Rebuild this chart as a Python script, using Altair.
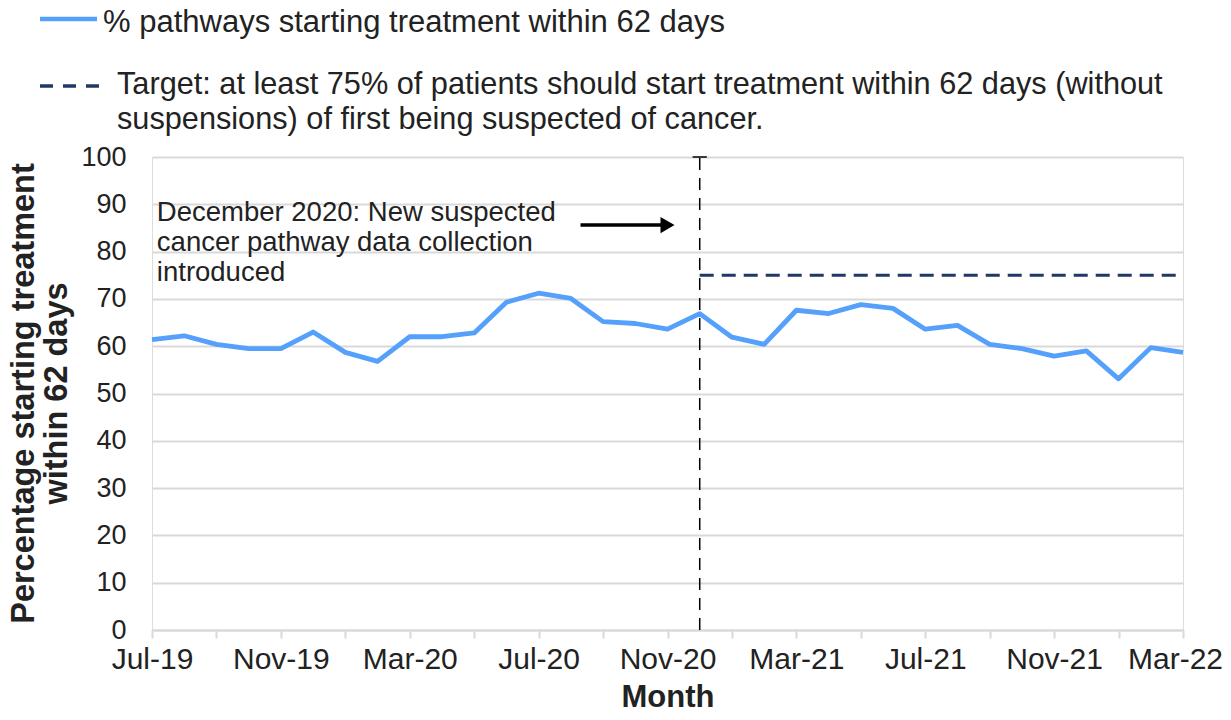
import altair as alt
import pandas as pd

months = ["Jul-19", "Aug-19", "Sep-19", "Oct-19", "Nov-19", "Dec-19", "Jan-20", "Feb-20",
          "Mar-20", "Apr-20", "May-20", "Jun-20", "Jul-20", "Aug-20", "Sep-20", "Oct-20",
          "Nov-20", "Dec-20", "Jan-21", "Feb-21", "Mar-21", "Apr-21", "May-21", "Jun-21",
          "Jul-21", "Aug-21", "Sep-21", "Oct-21", "Nov-21", "Dec-21", "Jan-22", "Feb-22",
          "Mar-22"]
pct_62_days = [61.4, 62.2, 60.4, 59.5, 59.5, 63.0, 58.7, 56.8, 62.0, 62.0, 62.8, 69.3,
               71.2, 70.1, 65.2, 64.8, 63.6, 66.9, 61.9, 60.4, 67.6, 66.9, 68.8, 68.0,
               63.6, 64.4, 60.4, 59.5, 57.9, 59.0, 53.1, 59.7, 58.7]
target_value = 75
change_month = "Dec-20"
y_ticks = list(range(0, 101, 10))

legend_line = "% pathways starting treatment within 62 days"
legend_target = ["Target: at least 75% of patients should start treatment within 62 days (without",
                 "suspensions) of first being suspected of cancer."]
annotation = ["December 2020: New suspected", "cancer pathway data collection", "introduced"]

FONT = "Liberation Sans"
BLUE = "#55a0fb"
NAVY = "#1f3864"
GRID = "#d9d9d9"
TXT = "#222222"

idx = list(range(len(months)))
df = pd.DataFrame({"i": idx, "month": months, "pct": pct_62_days})
ci = months.index(change_month)
last = len(months) - 1

label_arr = "[" + ",".join("'" + m + "'" for m in months) + "]"
label_expr = f"datum.value % 4 == 0 ? {label_arr}[datum.value] : ''"

x_scale = alt.Scale(domain=[0, last], nice=False, zero=False)
y_scale = alt.Scale(domain=[0, 100], nice=False)

x_axis = alt.Axis(values=idx, labelExpr=label_expr, labelFlush=False, labelOverlap=False,
                  grid=False, tickSize=8, tickWidth=2, tickColor=GRID, domainColor=GRID,
                  domainWidth=2, labelFontSize=30, labelColor=TXT, labelFont=FONT,
                  labelPadding=6, labelOffset={"expr": f"datum.value == {last} ? -8 : 0"},
                  title="Month", titleFont=FONT, titleFontSize=31,
                  titleFontWeight="bold", titleColor=TXT, titlePadding=8)
y_axis = alt.Axis(values=y_ticks, domain=False, ticks=False, grid=True, gridColor=GRID,
                  gridWidth=2, labelFontSize=27, labelColor=TXT, labelFont=FONT,
                  labelPadding=26,
                  title=["Percentage starting treatment", "within 62 days"],
                  titleFont=FONT, titleFontSize=32.5, titleFontWeight="bold", titleColor=TXT,
                  titleAngle=270, titleX=-129, titleY=236, titleAlign="center",
                  titleBaseline="middle", titleLineHeight=33)

base = alt.Chart(df)
line = base.mark_line(color=BLUE, strokeWidth=4.8, strokeJoin="round").encode(
    x=alt.X("i:Q", scale=x_scale, axis=x_axis),
    y=alt.Y("pct:Q", scale=y_scale, axis=y_axis),
)

one = pd.DataFrame({"x": [ci], "x2": [last], "y": [target_value], "y0": [0], "y1": [100],
                    "tl": [ci - 0.22], "tr": [ci + 0.22]})
target = alt.Chart(one).mark_rule(color=NAVY, strokeWidth=3, strokeDash=[14, 8]).encode(
    x="x:Q", x2="x2:Q", y="y:Q")
vline = alt.Chart(one).mark_rule(color="black", strokeWidth=1.5, strokeDash=[12, 8]).encode(
    x="x:Q", y="y0:Q", y2="y1:Q")
vcap = alt.Chart(one).mark_rule(color="black", strokeWidth=1.5).encode(
    x="tl:Q", x2="tr:Q", y="y1:Q")

ann_df = pd.DataFrame({"x": [0.15], "y": [86.4], "ax": [13.3], "ax2": [15.9], "ay": [85.6],
                       "hx": [16.0]})
ann = alt.Chart(ann_df).mark_text(align="left", baseline="alphabetic", font=FONT,
                                  fontSize=27.5, color=TXT, lineHeight=30).encode(
    x="x:Q", y="y:Q", text=alt.value(annotation))
arrow = alt.Chart(ann_df).mark_rule(color="black", strokeWidth=3.5).encode(
    x="ax:Q", x2="ax2:Q", y="ay:Q")
head = alt.Chart(ann_df).mark_point(shape="triangle-right", filled=True, color="black",
                                    size=260, opacity=1).encode(x="hx:Q", y="ay:Q")

dummy = pd.DataFrame({"a": [0]})
leg1_line = alt.Chart(dummy).mark_rule(color=BLUE, strokeWidth=4.5).encode(
    x=alt.value(-112), x2=alt.value(-55), y=alt.value(-138))
leg1_text = alt.Chart(dummy).mark_text(align="left", baseline="alphabetic", font=FONT,
                                       fontSize=31, color=TXT).encode(
    x=alt.value(-49), y=alt.value(-125), text=alt.value(legend_line))
leg2_line = alt.Chart(dummy).mark_rule(color=NAVY, strokeWidth=3.5, strokeDash=[13, 10]).encode(
    x=alt.value(-112), x2=alt.value(-53), y=alt.value(-71))
leg2_text = alt.Chart(dummy).mark_text(align="left", baseline="alphabetic", font=FONT,
                                       fontSize=30.7, color=TXT, lineHeight=35).encode(
    x=alt.value(-35), y=alt.value(-63), text=alt.value(legend_target))

chart = alt.layer(line, target, vline, vcap, ann, arrow, head,
                  leg1_line, leg1_text, leg2_line, leg2_text).properties(
    width=1031, height=473,
    autosize=alt.AutoSizeParams(type="none"),
    padding={"left": 144, "top": 149, "right": 40, "bottom": 82},
).configure_view(stroke=None).configure(background="white")

chart.save("out.html", embed_options={"renderer": "svg", "actions": False})
